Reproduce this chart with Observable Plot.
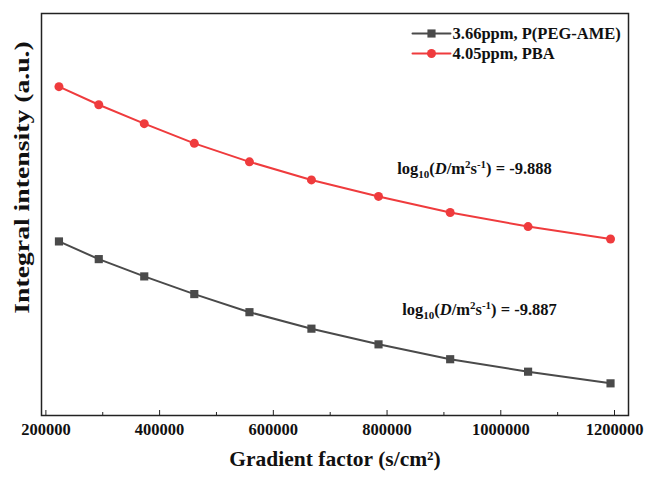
<!DOCTYPE html>
<html><head><meta charset="utf-8">
<script src="https://cdn.jsdelivr.net/npm/d3@7"></script>
<script src="https://cdn.jsdelivr.net/npm/@observablehq/plot@0.6"></script>
<style>body{margin:0;background:#fff} #chart svg{display:block;background:#fff}</style>
</head><body><div id="chart"></div>
<script>
const gradientFactor = [223000, 293000, 373000, 461000, 558000, 667000, 785000, 911000, 1048000, 1193000];
const pbaIntensity = [81.8, 77.3, 72.6, 67.7, 63.1, 58.6, 54.5, 50.5, 47.0, 43.9];
const pegIntensity = [43.3, 38.9, 34.6, 30.2, 25.7, 21.6, 17.7, 14.0, 10.9, 8.0];
const seriesNames = ["3.66ppm, P(PEG-AME)", "4.05ppm, PBA"];
const seriesColors = ["#4a4a4a", "#ef3b3d"];
const seriesSymbols = ["square", "circle"];
const diffusionValues = ["-9.887", "-9.888"];
const xMajorTicks = [200000, 400000, 600000, 800000, 1000000, 1200000];
const xMinorTicks = [300000, 500000, 700000, 900000, 1100000];
const xLabel = "Gradient factor (s/cm²)";
const yLabel = "Integral intensity (a.u.)";

const seriesValues = [pegIntensity, pbaIntensity];
const rows = seriesNames.flatMap((name, i) =>
  gradientFactor.map((g, j) => ({series: name, x: g, y: seriesValues[i][j]})));

const bold = {fontWeight: "bold", fill: "#111"};
const legendMarks = seriesNames.flatMap((name, i) => [
  Plot.vector([name], {frameAnchor: "top-left", dx: 390, dy: 20 + 20 * i, length: 38, rotate: 90, anchor: "middle",
    stroke: seriesColors[i], strokeWidth: 2,
    shape: {draw(ctx, l) { ctx.moveTo(0, 0); ctx.lineTo(0, -l); }}}),
  Plot.dot([name], {frameAnchor: "top-left", dx: 390, dy: 20 + 20 * i, symbol: () => seriesSymbols[i],
    fill: seriesColors[i], r: seriesSymbols[i] === "square" ? 4.6 : 4.5, stroke: "none"}),
  Plot.text([name], {frameAnchor: "top-left", dx: 411, dy: 20 + 20 * i, text: d => d, textAnchor: "start",
    lineAnchor: "middle", fontSize: 16.5, ...bold})
]);

const chart = Plot.plot({
  width: 646, height: 477,
  marginLeft: 41, marginRight: 18, marginTop: 13, marginBottom: 62,
  style: {fontFamily: "'Liberation Serif', 'Times New Roman', serif", fontSize: "16px", background: "#fff"},
  x: {domain: [192300, 1224600], axis: null},
  y: {domain: [0, 100], axis: null},
  symbol: {domain: seriesNames, range: seriesSymbols},
  color: {domain: seriesNames, range: seriesColors},
  marks: [
    Plot.line(rows, {x: "x", y: "y", z: "series", stroke: "series", strokeWidth: 2}),
    Plot.dot(rows.filter(d => d.series === seriesNames[0]), {x: "x", y: "y", symbol: "series", fill: "series", r: 4.6}),
    Plot.dot(rows.filter(d => d.series === seriesNames[1]), {x: "x", y: "y", symbol: "series", fill: "series", r: 4.5}),
    Plot.axisX(xMajorTicks, {tickSize: -5, fill: "none", label: null, stroke: "#222"}),
    Plot.axisX(xMinorTicks, {tickSize: -3, fill: "none", label: null, stroke: "#222"}),
    Plot.axisX(xMajorTicks, {tickSize: 0, tickPadding: 8, tickFormat: d3.format("d"), label: null,
      fontSize: 16.5, ...bold}),
    Plot.frame({stroke: "#222", strokeWidth: 1.5}),
    Plot.text([xLabel], {frameAnchor: "bottom", dy: 50, text: d => d, fontSize: 21.5, ...bold}),
    Plot.text([yLabel], {frameAnchor: "left", dx: -20, dy: -37, rotate: -90, text: d => d, textAnchor: "middle",
      lineAnchor: "middle", fontSize: 22, ...bold, className: "ylab"}),
    Plot.text([diffusionValues[1]], {frameAnchor: "top-left", dx: 433, dy: 155, text: d => `log10(D/m2s-1) = ${d}`,
      textAnchor: "middle", lineAnchor: "middle", fontSize: 16.5, ...bold, className: "anno"}),
    Plot.text([diffusionValues[0]], {frameAnchor: "top-left", dx: 438, dy: 296, text: d => `log10(D/m2s-1) = ${d}`,
      textAnchor: "middle", lineAnchor: "middle", fontSize: 16.5, ...bold, className: "anno"}),
    ...legendMarks
  ]
});

// rich text for annotations: subscript, italic and superscripts
d3.select(chart).selectAll(".anno text").each(function() {
  const t = d3.select(this);
  const val = this.textContent.split("= ")[1];
  t.text(null);
  const parts = [
    ["log", {}], ["10", {sub: true}], ["(", {}], ["D", {italic: true}], ["/m", {}],
    ["2", {sup: true}], ["s", {}], ["-1", {sup: true}], [") = " + val, {}]
  ];
  let shift = 0;
  for (const [s, o] of parts) {
    const target = o.sub ? 4 : o.sup ? -6 : 0;
    const ts = t.append("tspan").text(s).attr("dy", target - shift);
    shift = target;
    if (o.sub || o.sup) ts.attr("font-size", 11);
    if (o.italic) ts.attr("font-style", "italic");
  }
});
// the reference's y label is drawn stretched along its direction
d3.select(chart).selectAll(".ylab text").each(function() {
  const tr = this.getAttribute("transform") || "";
  this.setAttribute("transform", (tr + " scale(1.26,1)").trim());
});

document.getElementById("chart").append(chart);
</script>
</body></html>
